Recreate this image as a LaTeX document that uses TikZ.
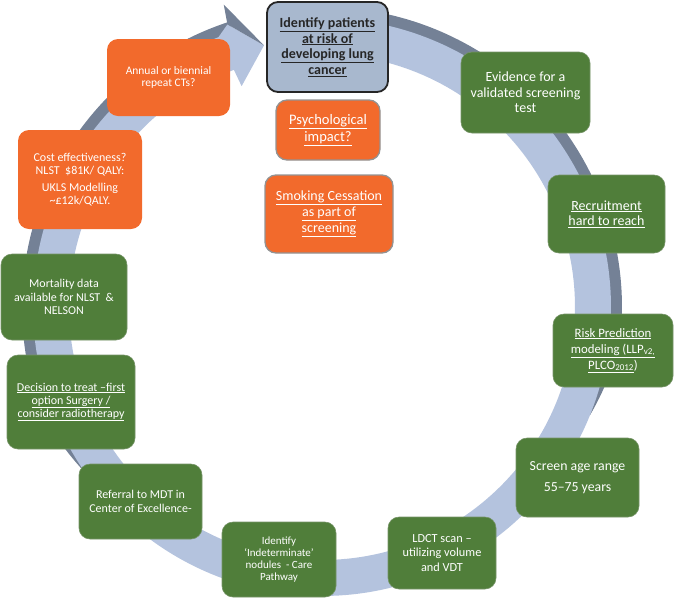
\documentclass[tikz,border=0pt]{standalone}
\usepackage{fontspec}
\setmainfont{Carlito}
\definecolor{grn}{RGB}{80,126,58}
\definecolor{grnedge}{RGB}{118,148,104}
\definecolor{org}{RGB}{242,106,44}
\definecolor{idfill}{RGB}{168,184,206}
\definecolor{ringlight}{RGB}{180,195,222}
\definecolor{ringdark}{RGB}{116,129,150}
\tikzset{
  box/.style={rectangle, rounded corners=11pt, inner sep=2pt, align=center, text=white},
  gbox/.style={box, fill=grn, draw=grnedge, line width=0.6pt},
  obox/.style={box, fill=org},
  oboxb/.style={box, fill=org, draw=gray!85, line width=1.3pt},
  idbox/.style={box, fill=idfill, draw=black!85, line width=1.8pt, text=black!85},
  fb/.style={font=\fontsize{12}{13.5}\selectfont},
}
\begin{document}
\begin{tikzpicture}[x=1pt,y=-1pt]
\useasboundingbox (0,0) rectangle (675,598);
% ring: dark outer side
\fill[ringdark] plot[domain=-22:96,samples=90] ({322+(289+11*min(1,(\x+22)/15))*cos(\x)},{307-(289+11*min(1,(\x+22)/15))*sin(\x)})
  -- plot[domain=96:-22,samples=90] ({322+268*cos(\x)},{307-268*sin(\x)}) -- cycle;
\fill[ringdark] plot[domain=108:215,samples=90] ({322+(289+11*min(1,(215-\x)/15))*cos(\x)},{307-(289+11*min(1,(215-\x)/15))*sin(\x)})
  -- plot[domain=215:108,samples=90] ({322+268*cos(\x)},{307-268*sin(\x)}) -- cycle;
% ring: light band
\fill[ringlight] plot[domain=110:452,samples=240] ({322+289*cos(\x)},{307-289*sin(\x)})
  -- plot[domain=452:110,samples=240] ({322+253*cos(\x)},{307-253*sin(\x)}) -- cycle;
% arrow head
\coordinate (tip) at ({322+268*cos(102.5)},{307-268*sin(102.5)});
\coordinate (hmid) at ({322+298*cos(108.5)},{307-298*sin(108.5)});
\coordinate (hout) at ({322+318*cos(108)},{307-318*sin(108)});
\coordinate (hin) at ({322+235*cos(110)},{307-235*sin(110)});
\coordinate (hbase) at ({322+289*cos(111)},{307-289*sin(111)});
\fill[ringlight] (hbase) -- (hmid) -- (tip) -- (hin) -- cycle;
\fill[ringdark] (hout) -- (tip) -- (hmid) -- cycle;

% boxes
\node[idbox, minimum width=121pt, minimum height=90pt, font=\bfseries\fontsize{14}{15.6}\selectfont] (ident) at (327.5,47)
  {\underline{Identify patients}\\\underline{at risk of}\\\underline{developing lung}\\\underline{cancer}};
\node[oboxb, minimum width=104pt, minimum height=60pt, font=\fontsize{14.5}{16.5}\selectfont] (psych) at (328,130)
  {\underline{Psychological}\\\underline{impact?}};
\node[oboxb, minimum width=128pt, minimum height=78pt, font=\fontsize{14}{15.8}\selectfont] (smoke) at (329,214)
  {\underline{Smoking Cessation}\\\underline{as part of}\\\underline{screening}};
\node[gbox, font=\fontsize{14}{15.5}\selectfont, minimum width=129pt, minimum height=81pt] (evid) at (525.5,92.5)
  {Evidence for a\\validated screening\\test};
\node[gbox, font=\fontsize{14}{15.5}\selectfont, minimum width=117pt, minimum height=78pt] (recr) at (606.5,214)
  {\underline{Recruitment}\\\underline{hard to reach}};
\node[gbox, font=\fontsize{12.8}{16}\selectfont, minimum width=120pt, minimum height=73pt] (risk) at (613,350.5)
  {\underline{Risk Prediction}\\\underline{modeling (LLP\textsubscript{v2,}}\\\underline{PLCO\textsubscript{2012}})};
\node[gbox, font=\fontsize{13.8}{21}\selectfont, minimum width=123pt, minimum height=79pt] (age) at (577.5,477.5)
  {Screen age range\\55–75 years};
\node[gbox, font=\fontsize{12.3}{14.5}\selectfont, minimum width=108pt, minimum height=72pt] (ldct) at (442,553)
  {LDCT scan –\\utilizing volume\\and VDT};
\node[gbox, font=\fontsize{11}{12.2}\selectfont, minimum width=114pt, minimum height=75pt] (indet) at (279,559.5)
  {Identify\\‘Indeterminate’\\nodules\ \ - Care\\Pathway};
\node[gbox, fb, minimum width=123pt, minimum height=75pt] (refer) at (140.5,501.5)
  {Referral to MDT in\\Center of Excellence-};
\node[gbox, font=\fontsize{12}{13}\selectfont, minimum width=128pt, minimum height=94pt] (decis) at (71,402)
  {\underline{Decision to treat –first}\\\underline{option Surgery /}\\\underline{consider radiotherapy}};
\node[gbox, fb, minimum width=126pt, minimum height=86pt] (mort) at (64,297)
  {Mortality data\\available for NLST\ \ \&\\NELSON};
\node[obox, font=\fontsize{12}{12.5}\selectfont, minimum width=124pt, minimum height=99pt] (cost) at (80,179.5)
  {Cost effectiveness?\\NLST\ \ \$81K/ QALY:\\[5pt]UKLS Modelling\\\textasciitilde£12k/QALY.};
\node[obox, font=\fontsize{11.5}{12.8}\selectfont, minimum width=123pt, minimum height=77pt] (annual) at (168.5,77.5)
  {Annual or biennial\\repeat CTs?};
\end{tikzpicture}
\end{document}
